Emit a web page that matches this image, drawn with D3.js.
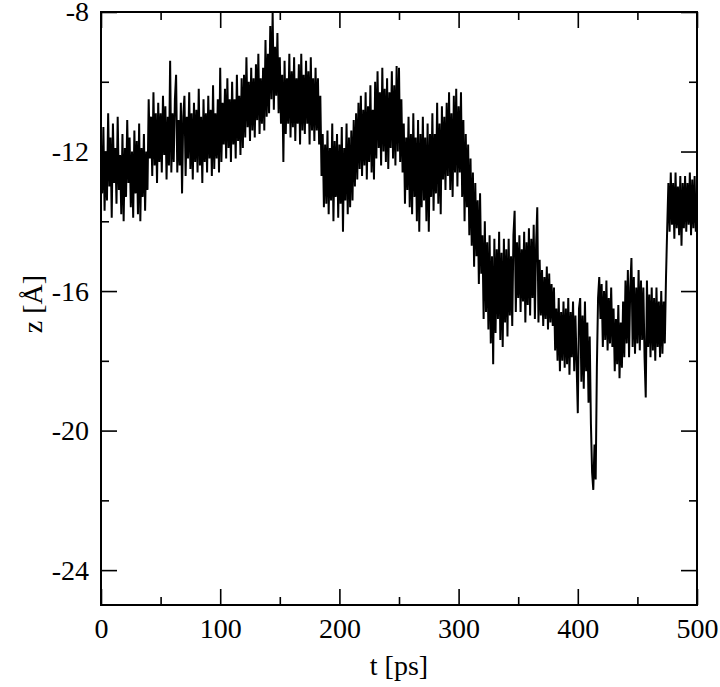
<!DOCTYPE html>
<html>
<head>
<meta charset="utf-8">
<script src="https://cdn.jsdelivr.net/npm/d3@7"></script>
<style>
  html, body { margin: 0; padding: 0; background: #fff; }
  svg { display: block; }
  text { font-family: "Liberation Serif", "Times New Roman", serif; fill: #000; }
</style>
</head>
<body>
<svg id="chart" width="720" height="687"></svg>
<script>
// ---- data (t in ps, one sample per ps, z in Å) ----
const tStart = 0;
const tStep = 1;
const zValues = [
  -11.8, -13.2, -11.3, -13.7, -12.0, -13.4, -10.9, -13.0, -11.6, -13.9,
  -11.2, -12.9, -11.9, -13.5, -11.0, -13.1, -12.1, -13.8, -11.5, -14.0,
  -11.9, -13.3, -11.1, -12.9, -11.6, -13.6, -12.0, -13.9, -11.4, -13.2,
  -11.7, -13.8, -11.2, -14.0, -11.9, -13.3, -11.5, -13.7, -12.0, -13.1,
  -10.5, -12.2, -11.0, -12.7, -10.3, -12.4, -10.9, -12.9, -10.6, -12.3,
  -10.9, -12.6, -10.4, -12.1, -10.7, -12.8, -11.0, -12.4, -9.4, -12.6,
  -10.9, -12.3, -10.5, -9.8, -12.6, -11.1, -12.4, -10.6, -13.2, -11.0,
  -10.4, -12.7, -11.0, -12.2, -10.3, -12.5, -10.9, -12.8, -10.6, -12.3,
  -10.8, -12.6, -10.2, -12.4, -11.0, -12.9, -10.5, -12.3, -10.9, -12.6,
  -10.4, -12.2, -10.8, -12.7, -10.1, -12.5, -10.9, -12.2, -10.5, -12.6,
  -9.6, -12.3, -10.6, -11.8, -10.2, -12.2, -9.9, -11.9, -10.5, -12.3,
  -10.0, -11.8, -10.5, -12.2, -9.8, -11.7, -10.4, -12.1, -9.9, -11.9,
  -9.8, -11.6, -9.3, -11.3, -10.0, -11.7, -9.6, -11.4, -9.9, -11.6,
  -9.5, -11.1, -9.2, -11.5, -9.9, -11.2, -9.6, -11.4, -8.8, -11.0,
  -9.2, -10.9, -8.4, -10.5, -8.0, -10.8, -9.0, -10.4, -8.6, -10.9,
  -9.3, -11.2, -9.8, -12.3, -9.4, -11.5, -9.9, -11.2, -9.2, -11.6,
  -9.7, -11.3, -9.3, -11.7, -9.9, -11.2, -9.5, -11.8, -9.2, -11.4,
  -9.8, -11.5, -9.4, -11.2, -9.7, -11.8, -9.3, -11.4, -9.9, -11.7,
  -9.6, -11.4, -9.9, -11.8, -10.4, -12.7, -11.5, -13.6, -11.8, -13.5,
  -11.4, -13.8, -11.9, -13.4, -11.2, -14.0, -11.7, -13.3, -11.5, -13.9,
  -11.8, -13.5, -11.3, -14.3, -11.9, -13.4, -11.2, -13.8, -11.6, -13.6,
  -11.4, -13.4, -11.1, -13.0, -10.9, -12.8, -10.6, -12.5, -10.4, -12.7,
  -10.8, -12.4, -10.3, -12.8, -10.7, -12.3, -10.1, -12.6, -10.8, -12.8,
  -10.0, -12.2, -9.7, -11.9, -10.3, -12.4, -9.6, -12.0, -10.2, -12.3,
  -9.9, -12.5, -10.3, -11.9, -9.7, -12.2, -10.1, -12.4, -9.55, -12.0,
  -9.6, -12.3, -10.5, -12.6, -11.2, -13.5, -11.6, -13.1, -11.0, -13.6,
  -11.5, -13.8, -10.9, -13.3, -11.6, -14.0, -11.1, -14.3, -11.5, -13.6,
  -11.0, -13.4, -11.6, -14.0, -11.2, -14.3, -11.5, -13.3, -10.9, -13.7,
  -11.5, -13.2, -10.6, -13.5, -11.2, -13.8, -10.7, -12.8, -11.0, -13.1,
  -10.6, -12.7, -10.3, -13.1, -10.9, -13.3, -10.4, -12.6, -10.2, -13.0,
  -10.7, -12.6, -10.3, -13.3, -11.1, -14.0, -11.5, -13.6, -11.8, -14.4,
  -12.2, -14.7, -12.6, -15.3, -12.9, -15.0, -13.4, -15.8, -13.2, -15.5,
  -14.4, -16.8, -14.0, -16.6, -14.6, -17.1, -14.4, -17.5, -15.0, -18.1,
  -14.5, -17.2, -14.8, -16.8, -14.3, -17.4, -14.9, -17.6, -14.5, -16.9,
  -14.8, -17.3, -14.5, -16.7, -15.0, -17.0, -14.4, -13.7, -16.6, -14.6,
  -16.2, -14.4, -16.6, -14.8, -16.3, -14.3, -16.9, -14.6, -16.4, -14.2,
  -16.7, -14.5, -16.2, -14.1, -16.8, -14.7, -13.6, -16.9, -15.1, -16.7,
  -15.4, -17.0, -15.6, -16.8, -15.3, -17.1, -15.5, -16.9, -15.8, -17.0,
  -15.9, -17.7, -16.5, -18.0, -16.2, -18.3, -16.6, -18.0, -16.3, -18.2,
  -16.5, -18.1, -16.2, -18.4, -16.6, -17.9, -16.3, -18.3, -16.7, -18.1,
  -19.5, -16.5, -16.2, -18.6, -16.7, -18.8, -16.3, -18.3, -16.9, -19.2,
  -17.3, -19.8, -21.2, -21.7, -20.4, -21.4, -18.2, -16.2, -15.6, -16.8,
  -15.8, -17.6, -16.0, -17.4, -15.7, -17.7, -16.2, -17.5, -15.9, -17.6,
  -16.5, -18.3, -16.8, -18.1, -16.4, -18.5, -16.9, -18.2, -16.3, -17.9,
  -15.7, -17.5, -15.4, -17.9, -15.9, -15.05, -17.6, -15.6, -17.8, -15.9,
  -17.5, -15.4, -17.7, -15.7, -17.4, -15.9, -17.9, -19.05, -15.7, -17.6,
  -16.1, -17.9, -15.9, -17.7, -16.2, -18.0, -15.9, -17.6, -16.3, -17.9,
  -16.0, -17.8, -16.3, -17.5, -15.6, -14.2, -12.9, -14.3, -12.6, -14.1,
  -12.9, -14.5, -12.6, -14.2, -13.0, -14.4, -12.7, -14.7, -12.9, -14.2,
  -12.7, -14.3, -12.9, -14.1, -12.6, -14.4, -12.8, -14.2, -12.7, -14.3, -13.4
];
const xDomain = [0, 500];
const yDomain = [-25, -8];
const xMajorTicks = [0, 100, 200, 300, 400, 500];
const xMinorTicks = [50, 150, 250, 350, 450];
const yMajorTicks = [-24, -20, -16, -12, -8];
const yMinorTicks = [-22, -18, -14, -10];
const xLabel = "t [ps]";
const yLabel = "z [Å]";

const series = zValues.map((z, i) => ({ t: tStart + i * tStep, z }));

// ---- layout ----
const L = 101, R = 697, T = 12, B = 605;
const svg = d3.select("#chart");
const x = d3.scaleLinear().domain(xDomain).range([L, R]);
const y = d3.scaleLinear().domain(yDomain).range([B, T]);

const MAJ = 16, MIN = 8, FS = 28;
const fmt = d => String(d);

svg.append("clipPath").attr("id", "clip")
  .append("rect").attr("x", L).attr("y", T).attr("width", R - L).attr("height", B - T);

const line = d3.line().x(d => x(d.t)).y(d => y(d.z));
svg.append("path")
  .datum(series)
  .attr("clip-path", "url(#clip)")
  .attr("fill", "none")
  .attr("stroke", "#000")
  .attr("stroke-width", 2.0)
  .attr("stroke-linejoin", "miter")
  .attr("stroke-miterlimit", 3)
  .attr("d", line);

function styleAxis(g) {
  g.select(".domain").remove();
  g.selectAll(".tick line").attr("stroke", "#000").attr("stroke-width", 1.6);
  g.selectAll(".tick text")
    .attr("font-family", '"Liberation Serif", "Times New Roman", serif')
    .attr("font-size", FS).attr("fill", "#000");
}

svg.append("g").attr("transform", `translate(0,${B})`)
  .call(d3.axisBottom(x).tickValues(xMajorTicks).tickFormat(fmt)
    .tickSizeInner(-MAJ).tickSizeOuter(0).tickPadding(13))
  .call(styleAxis);
svg.append("g").attr("transform", `translate(0,${B})`)
  .call(d3.axisBottom(x).tickValues(xMinorTicks).tickFormat("")
    .tickSizeInner(-MIN).tickSizeOuter(0))
  .call(styleAxis);
svg.append("g").attr("transform", `translate(0,${T})`)
  .call(d3.axisTop(x).tickValues(xMajorTicks).tickFormat("")
    .tickSizeInner(-MAJ).tickSizeOuter(0))
  .call(styleAxis);
svg.append("g").attr("transform", `translate(0,${T})`)
  .call(d3.axisTop(x).tickValues(xMinorTicks).tickFormat("")
    .tickSizeInner(-MIN).tickSizeOuter(0))
  .call(styleAxis);
svg.append("g").attr("transform", `translate(${L},0)`)
  .call(d3.axisLeft(y).tickValues(yMajorTicks).tickFormat(fmt)
    .tickSizeInner(-MAJ).tickSizeOuter(0).tickPadding(12))
  .call(styleAxis);
svg.append("g").attr("transform", `translate(${L},0)`)
  .call(d3.axisLeft(y).tickValues(yMinorTicks).tickFormat("")
    .tickSizeInner(-MIN).tickSizeOuter(0))
  .call(styleAxis);
svg.append("g").attr("transform", `translate(${R},0)`)
  .call(d3.axisRight(y).tickValues(yMajorTicks).tickFormat("")
    .tickSizeInner(-MAJ).tickSizeOuter(0))
  .call(styleAxis);
svg.append("g").attr("transform", `translate(${R},0)`)
  .call(d3.axisRight(y).tickValues(yMinorTicks).tickFormat("")
    .tickSizeInner(-MIN).tickSizeOuter(0))
  .call(styleAxis);

svg.append("rect")
  .attr("x", L).attr("y", T).attr("width", R - L).attr("height", B - T)
  .attr("fill", "none").attr("stroke", "#000").attr("stroke-width", 2);

svg.append("text")
  .attr("x", (L + R) / 2).attr("y", 675)
  .attr("text-anchor", "middle").attr("font-size", FS)
  .text(xLabel);
svg.append("text")
  .attr("transform", `translate(42,304) rotate(-90)`)
  .attr("text-anchor", "middle").attr("font-size", FS)
  .text(yLabel);
</script>
</body>
</html>
